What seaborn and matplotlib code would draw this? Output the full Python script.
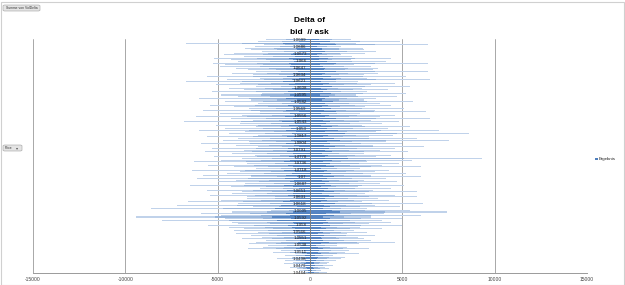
import numpy as np
import pandas as pd
import matplotlib
matplotlib.use("Agg")
import matplotlib.pyplot as plt
from matplotlib.patches import Rectangle, FancyBboxPatch
import seaborn as sns

# ---------------- data ----------------
bid_delta = [
    -2400, -2800, -6700, -2500, -3000, -3500, -3200, -2600, -4100, -4650,
    -3600, -5200, -4300, -3900, -5250, -4600, -4900, -4000, -3350, -2900,
    -4200, -3100, -5600, -2700, -4500, -6700, -3800, -5100, -2900, -4400,
    -3600, -5300, -2600, -4800, -3900, -6000, -3200, -4600, -2800, -5400,
    -4100, -3300, -5800, -2700, -4900, -3700, -6200, -4300, -3100, -6800,
    -3800, -5100, -2900, -4600, -6000, -3500, -4400, -2800, -5600, -3900,
    -4700, -3300, -5900, -4000, -2800, -5300, -3600, -5700, -4200, -3000,
    -5200, -3700, -4800, -6300, -3400, -5500, -4100, -2900, -6400, -3800,
    -4500, -5800, -3200, -6100, -4000, -5000, -3500, -6500, -4300, -2700,
    -5600, -3700, -4200, -5400, -3400, -3400, -4800, -6600, -3900, -7200,
    -3100, -8600, -2100, -4200, -5900, -4800, -9400, -4600, -8000, -4200,
    -3900, -5500, -4400, -3600, -4100, -2800, -4000, -3200, -2600, -3700,
    -2400, -2900, -3300, -2300, -2550, -3350, -1570, -2000, -800, -1350,
    -1000, -1800, -1350, -900, -1400, -900, -1100, -700, -600, -400,
]
ask_delta = [
    2200, 4900, 2500, 6400, 1700, 2850, 2900, 3600, 3000, 1700,
    2300, 4400, 2200, 4100, 6400, 2400, 3300, 3700, 3400, 6400,
    3700, 2900, 5200, 3100, 6500, 2600, 4600, 3300, 5400, 2800,
    4200, 3100, 5200, 2500, 4700, 3600, 2900, 5600, 3800, 4400,
    3000, 5100, 3500, 6300, 2700, 4600, 3800, 6500, 3300, 4800,
    3900, 2800, 5400, 4200, 7000, 3600, 8600, 4500, 3200, 5800,
    7500, 4100, 5000, 3400, 6200, 4600, 3800, 5300, 2900, 4400,
    3600, 9300, 5500, 3100, 4800, 3900, 6000, 2700, 4300, 3500,
    5200, 3300, 6000, 4100, 2900, 4700, 3800, 5100, 2600, 4400,
    3400, 5800, 3000, 4600, 5800, 3700, 4300, 2800, 6100, 3500,
    4900, 3100, 5400, 7400, 4000, 6000, 3300, 5000, 3900, 4400,
    3200, 5000, 2700, 3900, 2400, 3100, 2000, 3500, 2600, 2900,
    3300, 4600, 2650, 1460, 2000, 3200, 2100, 1900, 2650, 1250,
    1900, 1680, 1400, 1030, 920, 1250, 800, 1030, 600, 900,
]
price_labels = [
    "1.0699", "1.0686", "1.0673", "1.066", "1.0647", "1.0634", "1.0621",
    "1.0608", "1.0595", "1.0582", "1.0569", "1.0556", "1.0543", "1.053",
    "1.0817", "1.0804", "1.0791", "1.0778", "1.0736", "1.0718", "1.07",
    "1.0687", "1.0651", "1.0631", "1.0618", "1.0605", "1.0592", "1.058",
    "1.0566", "1.0551", "1.0538", "1.0511", "1.0498", "1.0479", "1.0464",
]
x_ticks = [-15000, -10000, -5000, 0, 5000, 10000, 15000]
title_lines = ["Delta of", "bid  // ask"]
legend_label = "Ergebnis"

# ---------------- build frame ----------------
n = len(bid_delta)
rows = list(range(n))
df = pd.DataFrame({
    "row": rows * 2,
    "side": ["bid"] * n + ["ask"] * n,
    "delta": bid_delta + ask_delta,
})
df["mid"] = df["delta"] * 0.55
df["inner"] = df["delta"] * 0.22

sns.set_theme(style="white")
plt.rcParams["font.family"] = ["Liberation Sans", "DejaVu Sans"]

fig = plt.figure(figsize=(6.25, 2.85), dpi=100)
fig.patch.set_facecolor("white")
ax = fig.add_axes([33 / 625, 1 - 273 / 285, 554 / 625, 234 / 285])

layers = [("delta", "#c0d2ea"), ("mid", "#98b5db"), ("inner", "#5584c2")]
for col, colr in layers:
    sns.barplot(data=df, y="row", x=col, hue="side", order=rows,
                orient="h", dodge=False, palette=[colr, colr],
                width=0.62, errorbar=None, legend=False, ax=ax,
                linewidth=0, saturation=1)

ax.set_xlim(-15000, 15000)
ax.set_ylim(n - 0.5, -0.5)
ax.set_xlabel("")
ax.set_ylabel("")

# grid
ax.set_xticks(x_ticks)
ax.set_xticklabels([str(t) for t in x_ticks], fontsize=3.6, color="#444444")
ax.xaxis.grid(True, color="#9a9a9a", linewidth=0.6)
ax.yaxis.grid(False)
ax.set_axisbelow(True)
ax.yaxis.set_zorder(5)
ax.tick_params(axis="x", length=0, pad=3)

# category axis at zero
ax.spines["left"].set_position(("data", 0))
ax.spines["left"].set_color("#7f7f7f")
ax.spines["left"].set_linewidth(0.7)
ax.spines["left"].set_zorder(5)
for s in ["top", "right"]:
    ax.spines[s].set_visible(False)
ax.spines["bottom"].set_color("#9a9a9a")
ax.spines["bottom"].set_linewidth(0.7)

tick_pos = np.linspace(0, n - 1, len(price_labels))
ax.set_yticks(tick_pos)
ax.set_yticklabels(price_labels, fontsize=3.2, color="#222222")
ax.tick_params(axis="y", length=1.5, width=0.4, color="#7f7f7f", pad=1,
               direction="out")

# title
fig.text(309 / 625, 1 - 20 / 285, title_lines[0], ha="center", va="center",
         fontsize=6, fontweight="bold", color="black")
fig.text(309 / 625, 1 - 32 / 285, title_lines[1], ha="center", va="center",
         fontsize=6, fontweight="bold", color="black")

# legend
fig.patches.append(Rectangle((595 / 625, 1 - 160 / 285), 2.5 / 625, 2.5 / 285,
                             transform=fig.transFigure, facecolor="#4f7fbd",
                             edgecolor="none"))
fig.text(598.5 / 625, 1 - 158.8 / 285, legend_label, fontsize=3.2,
         va="center", ha="left", color="#222222")

# pivot buttons
fig.patches.append(FancyBboxPatch((3 / 625, 1 - 11 / 285), 37 / 625, 6 / 285,
                                  boxstyle="round,pad=0,rounding_size=0.003",
                                  transform=fig.transFigure,
                                  facecolor="#e4e4e4", edgecolor="#a0a0a0",
                                  linewidth=0.4))
fig.text(21.5 / 625, 1 - 8 / 285, "Summe von VolDelta", fontsize=2.4,
         ha="center", va="center", color="#333333")
fig.patches.append(FancyBboxPatch((3 / 625, 1 - 151 / 285), 19 / 625, 6 / 285,
                                  boxstyle="round,pad=0,rounding_size=0.003",
                                  transform=fig.transFigure,
                                  facecolor="#e4e4e4", edgecolor="#a0a0a0",
                                  linewidth=0.4))
fig.text(5 / 625, 1 - 148 / 285, "Price", fontsize=2.4,
         ha="left", va="center", color="#333333")
fig.text(17 / 625, 1 - 148 / 285, "▾", fontsize=3, ha="center", va="center",
         color="#555555", family=["DejaVu Sans"])

# chart frame
fig.patches.append(Rectangle((0.5 / 625, 0.5 / 285), 623 / 625, 283 / 285,
                             transform=fig.transFigure, facecolor="none",
                             edgecolor="#d0d0d0", linewidth=0.8))

fig.savefig("out.png", dpi=100)
